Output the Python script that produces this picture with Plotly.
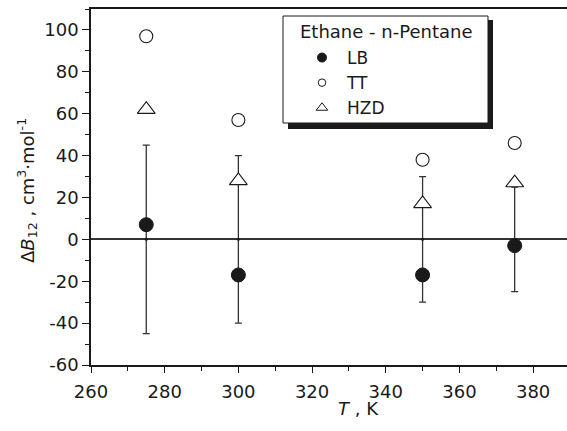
import plotly.graph_objects as go

T = [275, 300, 350, 375]
LB = [7, -17, -17, -3]
TT = [97, 57, 38, 46]
HZD = [62, 28, 17, 27]
err = [45, 40, 30, 25]
zero = [0, 0, 0, 0]

x_ticks = [260, 280, 300, 320, 340, 360, 380]
y_ticks = [-60, -40, -20, 0, 20, 40, 60, 80, 100]
y_ticklabels = ["-60", "-40", "-20", "0", "20", "40", "60", "80", "100"]
legend_title = "Ethane - n-Pentane"

FONT = "DejaVu Sans, Verdana, sans-serif"
FS = 18
INK = "#1a1a1a"

W, H = 567, 431
ML, MR, MT, MB = 91, 0, 9, 66
PW, PH = W - ML - MR, H - MT - MB


def px(xp):
    return (xp - ML) / PW


def py(yp):
    return (H - MB - yp) / PH


fig = go.Figure()

# error bars centred on zero
fig.add_trace(go.Scatter(
    x=T, y=zero, mode="markers",
    marker=dict(color=INK, size=3),
    error_y=dict(type="data", array=err, visible=True, color="#333333",
                 thickness=1.3, width=3.5),
    showlegend=False, hoverinfo="skip"))

styles = {
    "LB": dict(symbol="circle", color=INK, lw=1, size=14, lsize=9),
    "TT": dict(symbol="circle", color="white", lw=1.1, size=13, lsize=7.5),
    "HZD": dict(symbol="triangle-up", color="white", lw=1.1, size=15.5, lsize=10),
}
series = {"LB": LB, "TT": TT, "HZD": HZD}

for name, vals in series.items():
    s = styles[name]
    fig.add_trace(go.Scatter(
        x=T, y=vals, mode="markers", name=name, showlegend=False,
        marker=dict(symbol=s["symbol"], size=s["size"], color=s["color"],
                    line=dict(color=INK, width=s["lw"]))))

# legend entries with the small symbols used in the legend box
for name in series:
    s = styles[name]
    fig.add_trace(go.Scatter(
        x=[None], y=[None], mode="markers", name=name, showlegend=True,
        marker=dict(symbol=s["symbol"], size=s["lsize"], color=s["color"],
                    line=dict(color=INK, width=1))))

shapes = [
    dict(type="rect", xref="paper", yref="paper",
         x0=px(288), x1=px(493), y0=py(129), y1=py(20),
         fillcolor=INK, line=dict(width=0), layer="above"),
    dict(type="rect", xref="paper", yref="paper",
         x0=px(283), x1=px(488), y0=py(123), y1=py(16),
         fillcolor="white", line=dict(color=INK, width=1), layer="above"),
]

fig.update_layout(
    width=W, height=H,
    margin=dict(l=ML, r=MR, t=MT, b=MB),
    paper_bgcolor="white", plot_bgcolor="white",
    font=dict(family=FONT, size=FS, color=INK),
    shapes=shapes,
    showlegend=True,
    legend=dict(
        x=px(297), xanchor="left", y=py(40), yanchor="top",
        bgcolor="rgba(0,0,0,0)", borderwidth=0,
        font=dict(size=17), itemwidth=40,
    ),
    xaxis=dict(
        range=[260, 389.2], tickmode="array", tickvals=x_ticks,
        ticks="outside", ticklen=6, tickwidth=1.3, tickcolor=INK,
        ticklabelstandoff=4,
        showline=True, linecolor=INK, linewidth=1.5, mirror=True,
        showgrid=False, zeroline=False,
        minor=dict(dtick=10, ticks="outside", ticklen=4, tickwidth=1.2,
                   tickcolor=INK, showgrid=False),
    ),
    yaxis=dict(
        range=[-60, 110], tickmode="array", tickvals=y_ticks,
        ticktext=y_ticklabels,
        ticks="outside", ticklen=7, tickwidth=1.3, tickcolor=INK,
        showline=True, linecolor=INK, linewidth=1.5,
        showgrid=False, zeroline=True, zerolinecolor="#333333",
        zerolinewidth=1.5,
        minor=dict(dtick=10, ticks="outside", ticklen=4, tickwidth=1.2,
                   tickcolor=INK, showgrid=False),
    ),
    annotations=[
        dict(xref="paper", yref="paper", x=px(385.5), y=py(32),
             xanchor="center", yanchor="middle", showarrow=False,
             text=legend_title),
        dict(xref="paper", yref="paper", x=px(358), y=py(408),
             xanchor="center", yanchor="middle", showarrow=False,
             text="<i>T</i> , K"),
        dict(xref="paper", yref="paper", x=px(27), y=py(191),
             xanchor="center", yanchor="middle", showarrow=False,
             textangle=-90,
             text="Δ<i>B</i><sub>12</sub> , cm<sup>3</sup>·mol<sup>-1</sup>"),
    ],
)

fig.write_html("out.html")
